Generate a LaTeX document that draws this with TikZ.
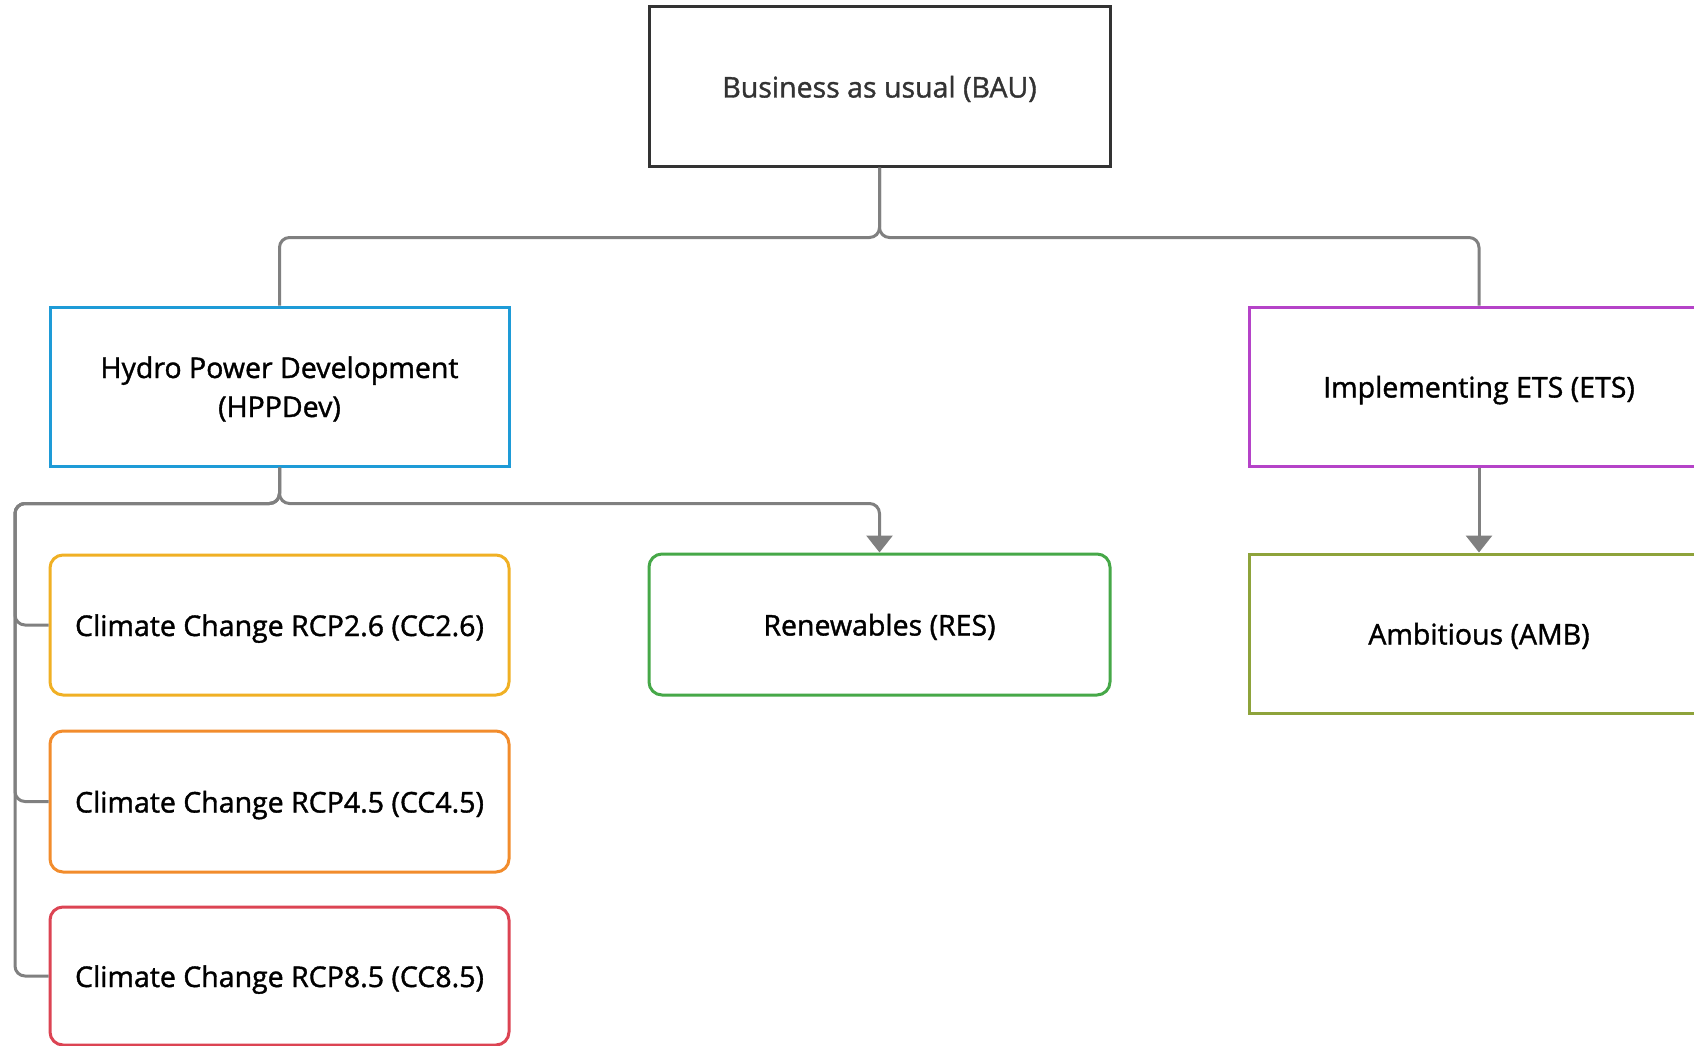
\documentclass[tikz,border=0pt]{standalone}
\usepackage{fontspec}
\setmainfont{Open Sans}
\newfontfamily\boxfont{Open Sans}[FakeBold=1.3]
\usetikzlibrary{arrows.meta}
\definecolor{bauC}{HTML}{333333}
\definecolor{hppC}{HTML}{1E9BD7}
\definecolor{etsC}{HTML}{B543C8}
\definecolor{ambC}{HTML}{8EA33B}
\definecolor{resC}{HTML}{46A848}
\definecolor{ccaC}{HTML}{F0B024}
\definecolor{ccbC}{HTML}{F28C2C}
\definecolor{cccC}{HTML}{DC4453}
\definecolor{connC}{HTML}{808080}
\begin{document}
\begin{tikzpicture}[x=1pt,y=-1pt,
  box/.style={draw, line width=3pt, minimum width=459pt, inner sep=0pt, align=center, text=black,
    font=\boxfont\fontsize{28.5}{39}\selectfont, text height=29pt, text depth=7pt},
  two/.style={text height=68pt, text depth=7pt},
  rbox/.style={box, rounded corners=13pt},
  conn/.style={draw=connC, line width=3pt, rounded corners=10pt},
  arr/.style={conn, -{Triangle[width=26pt,length=17pt]}}]
\useasboundingbox (0,0) rectangle (1694,1046);
\clip (0,0) rectangle (1694,1046);
\fill[white] (0,0) rectangle (1694,1046);
\node[box, draw=bauC, text=bauC, minimum width=461pt, minimum height=159pt] (BAU) at (879.5,86.5) {Business as usual (BAU)};
\node[box, two, draw=hppC, minimum height=159pt] (HPP) at (279.5,386.5) {Hydro Power Development\\(HPPDev)};
\node[box, draw=etsC, minimum width=460pt, minimum height=159pt] (ETS) at (1479,386.5) {Implementing ETS (ETS)};
\node[rbox, draw=ccaC, minimum height=140pt] (CCa) at (279.5,625) {Climate Change RCP2.6 (CC2.6)};
\node[rbox, draw=ccbC, minimum height=141pt] (CCb) at (279.5,801.5) {Climate Change RCP4.5 (CC4.5)};
\node[rbox, draw=cccC, minimum height=138pt] (CCc) at (279.5,976) {Climate Change RCP8.5 (CC8.5)};
\node[rbox, draw=resC, minimum width=461pt, minimum height=141pt] (RES) at (879.5,624.5) {Renewables (RES)};
\node[box, draw=ambC, minimum width=460pt, minimum height=159pt] (AMB) at (1479,633.5) {Ambitious (AMB)};
\coordinate (spine) at (15,0);
\draw[conn] (BAU.south) -- ++(0,70) -| (HPP.north);
\draw[conn] (BAU.south) -- ++(0,70) -| (ETS.north);
\draw[conn] (HPP.south) -- ++(0,36) -| (spine |- CCa.west) -- (CCa.west);
\draw[conn] (HPP.south) -- ++(0,36) -| (spine |- CCb.west) -- (CCb.west);
\draw[conn] (HPP.south) -- ++(0,36) -| (spine |- CCc.west) -- (CCc.west);
\draw[arr] (HPP.south) -- ++(0,36) -| (RES.north);
\draw[arr] (ETS.south) -- (AMB.north);
\end{tikzpicture}
\end{document}
